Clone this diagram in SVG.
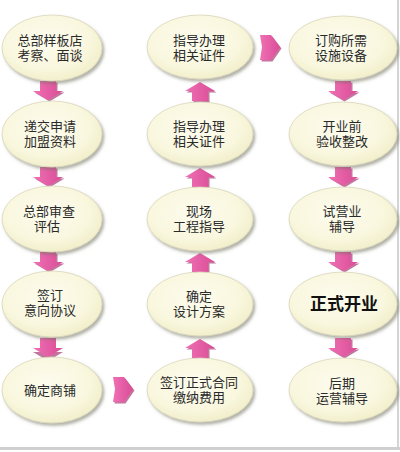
<svg xmlns="http://www.w3.org/2000/svg" width="400" height="452" viewBox="0 0 400 452">
<defs>
<radialGradient id="eg" cx="0.45" cy="0.4" r="0.6">
<stop offset="0" stop-color="#fdfcee"/>
<stop offset="0.7" stop-color="#f9f7de"/>
<stop offset="1" stop-color="#f2efcc"/>
</radialGradient>
<linearGradient id="pg" x1="0" y1="0" x2="1" y2="0">
<stop offset="0" stop-color="#f070b4"/>
<stop offset="1" stop-color="#d94c96"/>
</linearGradient>
<filter id="sh" x="-10%" y="-10%" width="125%" height="130%">
<feDropShadow dx="2" dy="2.5" stdDeviation="1.5" flood-color="#6f6f60" flood-opacity="0.55"/>
</filter>
<path id="down" d="M-8,0 H8 V10 H15 L0,19 L-15,10 H-8 Z"/>
<path id="right" d="M0,-12 H11 L20,0 L11,13 H0 L2,0 Z"/>
</defs>
<style>
.e{fill:url(#eg);stroke:#d9d6bb;stroke-width:0.8;filter:url(#sh)}
.t{font-family:"Liberation Sans","Noto Sans CJK SC",sans-serif;font-size:13px;fill:#2a2a2a;text-anchor:middle}
.b{font-family:"Liberation Sans","Noto Sans CJK SC",sans-serif;font-size:17px;font-weight:bold;fill:#111;text-anchor:middle}
.a{fill:url(#pg)}
.s{fill:#a93a74;opacity:0.7}
</style>
<rect width="400" height="452" fill="#ffffff"/>
<line x1="398" y1="0" x2="398" y2="448" stroke="#d4d4d4" stroke-width="2"/>
<line x1="0" y1="448.5" x2="400" y2="448.5" stroke="#cfcfcf" stroke-width="3"/>

<g id="connectors">
<g transform="translate(48,81)"><use href="#down" class="s" transform="translate(1.5,1.5)"/><use href="#down" class="a"/></g>
<g transform="translate(48,167)"><use href="#down" class="s" transform="translate(1.5,1.5)"/><use href="#down" class="a"/></g>
<g transform="translate(48,252)"><use href="#down" class="s" transform="translate(1.5,1.5)"/><use href="#down" class="a"/></g>
<g transform="translate(48,338)"><use href="#down" class="s" transform="translate(0,4)"/><use href="#down" class="a"/></g>
<g transform="translate(200,101) scale(1,-1)"><use href="#down" class="s" transform="translate(1.5,-1.5)"/><use href="#down" class="a"/></g>
<g transform="translate(200,187) scale(1,-1)"><use href="#down" class="s" transform="translate(1.5,-1.5)"/><use href="#down" class="a"/></g>
<g transform="translate(200,272) scale(1,-1)"><use href="#down" class="s" transform="translate(1.5,-1.5)"/><use href="#down" class="a"/></g>
<g transform="translate(200,358) scale(1,-1)"><use href="#down" class="s" transform="translate(1.5,-1.5)"/><use href="#down" class="a"/></g>
<g transform="translate(343,81)"><use href="#down" class="s" transform="translate(1.5,1.5)"/><use href="#down" class="a"/></g>
<g transform="translate(343,167)"><use href="#down" class="s" transform="translate(1.5,1.5)"/><use href="#down" class="a"/></g>
<g transform="translate(343,252)"><use href="#down" class="s" transform="translate(1.5,1.5)"/><use href="#down" class="a"/></g>
<g transform="translate(343,338)"><use href="#down" class="s" transform="translate(1.5,1.5)"/><use href="#down" class="a"/></g>
<g transform="translate(260,47)"><use href="#right" class="s" transform="translate(1.5,1.5)"/><use href="#right" class="a"/></g>
<g transform="translate(113,389)"><use href="#right" class="s" transform="translate(1.5,1.5)"/><use href="#right" class="a"/></g>
</g>

<g id="n1"><ellipse class="e" cx="52" cy="48" rx="50" ry="33"/><text class="t" x="50" y="45">总部样板店</text><text class="t" x="50" y="60">考察、面谈</text></g>
<g id="n2"><ellipse class="e" cx="52" cy="134" rx="50" ry="33"/><text class="t" x="50" y="131">递交申请</text><text class="t" x="50" y="146">加盟资料</text></g>
<g id="n3"><ellipse class="e" cx="52" cy="219" rx="50" ry="33"/><text class="t" x="49" y="216">总部审查</text><text class="t" x="47" y="231">评估</text></g>
<g id="n4"><ellipse class="e" cx="52" cy="304" rx="50" ry="33"/><text class="t" x="50" y="300">签订</text><text class="t" x="50" y="315">意向协议</text></g>
<g id="n5"><ellipse class="e" cx="52" cy="390" rx="50" ry="33"/><text class="t" x="50" y="395">确定商铺</text></g>

<g id="n6"><ellipse class="e" cx="200" cy="47" rx="53" ry="32"/><text class="t" x="199" y="45">指导办理</text><text class="t" x="199" y="60">相关证件</text></g>
<g id="n7"><ellipse class="e" cx="200" cy="134" rx="53" ry="32"/><text class="t" x="199" y="131">指导办理</text><text class="t" x="199" y="146">相关证件</text></g>
<g id="n8"><ellipse class="e" cx="200" cy="219" rx="53" ry="32"/><text class="t" x="199" y="216">现场</text><text class="t" x="199" y="231">工程指导</text></g>
<g id="n9"><ellipse class="e" cx="200" cy="304" rx="53" ry="32"/><text class="t" x="199" y="301">确定</text><text class="t" x="199" y="316">设计方案</text></g>
<g id="n10"><ellipse class="e" cx="200" cy="390" rx="53" ry="32"/><text class="t" x="199" y="387">签订正式合同</text><text class="t" x="199" y="402">缴纳费用</text></g>

<g id="n11"><ellipse class="e" cx="343" cy="48" rx="54" ry="32"/><text class="t" x="341" y="45">订购所需</text><text class="t" x="341" y="60">设施设备</text></g>
<g id="n12"><ellipse class="e" cx="343" cy="134" rx="54" ry="32"/><text class="t" x="342" y="131">开业前</text><text class="t" x="342" y="146">验收整改</text></g>
<g id="n13"><ellipse class="e" cx="343" cy="219" rx="54" ry="32"/><text class="t" x="342" y="216">试营业</text><text class="t" x="342" y="231">辅导</text></g>
<g id="n14"><ellipse class="e" cx="343" cy="304" rx="54" ry="32"/><text class="b" x="344" y="310">正式开业</text></g>
<g id="n15"><ellipse class="e" cx="343" cy="390" rx="54" ry="32"/><text class="t" x="342" y="388">后期</text><text class="t" x="342" y="403">运营辅导</text></g>
</svg>
